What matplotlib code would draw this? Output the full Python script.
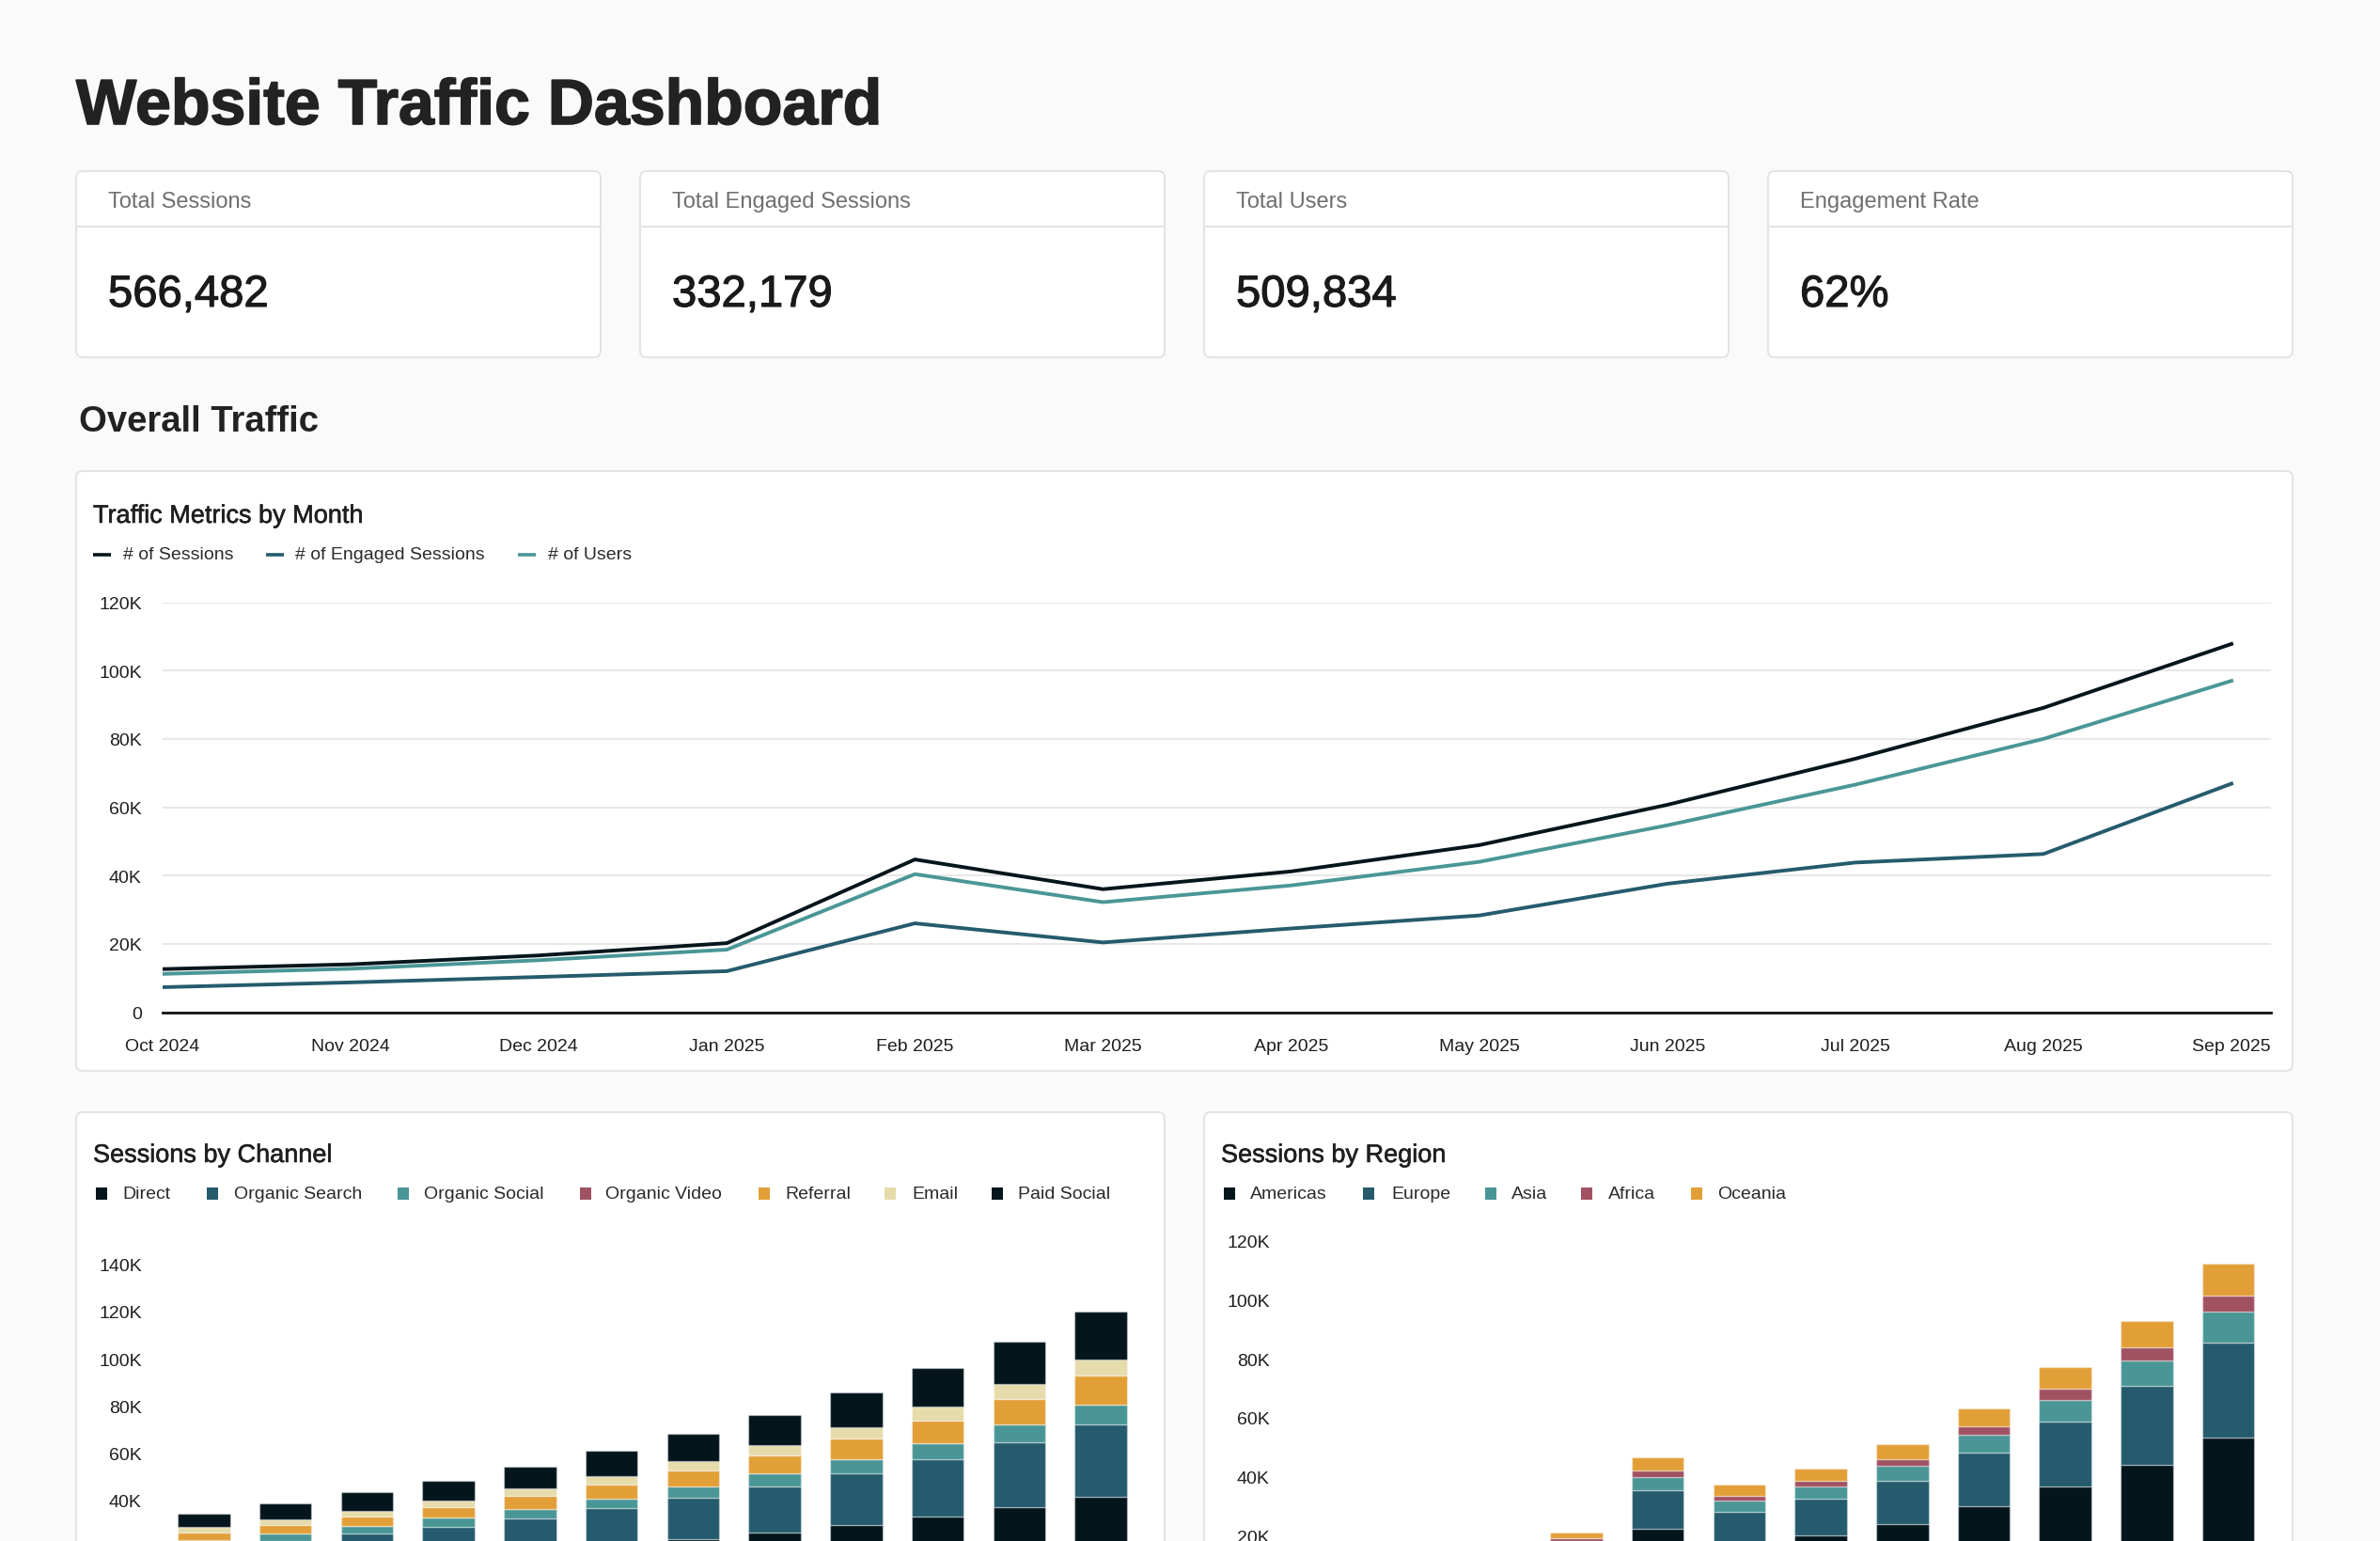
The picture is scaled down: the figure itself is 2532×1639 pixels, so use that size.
import matplotlib.pyplot as plt
import matplotlib.patheffects as pe
from matplotlib.patches import FancyBboxPatch, Rectangle
from matplotlib.ticker import FuncFormatter

# Monthly traffic (thousands)
months = ["Oct 2024", "Nov 2024", "Dec 2024", "Jan 2025", "Feb 2025", "Mar 2025",
          "Apr 2025", "May 2025", "Jun 2025", "Jul 2025", "Aug 2025", "Sep 2025"]
sessions = [12.6, 14.0, 16.6, 20.2, 44.7, 36.0, 41.2, 48.9, 60.7, 74.2, 89.1, 107.8]
engaged = [7.3, 8.7, 10.3, 12.0, 26.0, 20.4, 24.5, 28.3, 37.6, 43.8, 46.3, 66.9]
users = [11.2, 12.7, 15.2, 18.3, 40.4, 32.2, 37.1, 44.0, 54.7, 66.6, 80.0, 97.0]

# Sessions by channel (thousands)
channel_names = ["Direct", "Organic Search", "Organic Social", "Organic Video",
                 "Referral", "Email", "Paid Social"]
direct = [11.6, 13.0, 14.8, 16.5, 18.5, 20.9, 23.4, 26.2, 29.3, 32.9, 36.9, 41.3]
organic_search = [8.6, 9.7, 11.0, 12.3, 13.8, 15.6, 17.5, 19.8, 22.2, 24.6, 27.8, 30.9]
organic_social = [2.8, 3.1, 3.1, 3.7, 4.0, 4.2, 4.8, 5.3, 6.0, 6.8, 7.4, 8.5]
organic_video = [0, 0, 0, 0, 0, 0, 0, 0, 0, 0, 0, 0]
referral = [3.5, 3.7, 4.2, 4.6, 5.4, 6.1, 6.9, 7.7, 8.5, 9.6, 10.9, 12.1]
email = [2.1, 2.4, 2.5, 2.8, 3.2, 3.6, 3.9, 4.2, 4.8, 5.7, 6.1, 6.9]
paid_social = [5.7, 6.6, 7.7, 8.4, 9.3, 10.4, 11.6, 13.1, 14.7, 16.3, 18.2, 20.3]

# Sessions by region (thousands)
region_names = ["Americas", "Europe", "Asia", "Africa", "Oceania"]
americas = [6.5, 7.2, 8.5, 10.2, 22.1, 17.2, 20.1, 23.9, 29.9, 36.7, 43.9, 53.2]
europe = [3.6, 4.0, 4.8, 5.9, 13.3, 10.8, 12.4, 14.7, 18.1, 22.0, 26.7, 32.3]
asia = [1.2, 1.4, 1.6, 1.9, 4.4, 3.7, 4.1, 5.1, 6.1, 7.4, 8.9, 10.6]
africa = [0.6, 0.6, 0.7, 0.9, 2.2, 1.6, 1.9, 2.3, 3.0, 3.7, 4.3, 5.3]
oceania = [1.2, 1.4, 1.7, 2.1, 4.6, 3.8, 4.2, 5.0, 6.0, 7.3, 8.9, 10.9]

kpi_labels = ["Total Sessions", "Total Engaged Sessions", "Total Users", "Engagement Rate"]
kpi_values = ["566,482", "332,179", "509,834", "62%"]

DARK = "#04151c"
PETROL = "#255b6d"
TEAL = "#4a9696"
WINE = "#a05263"
ORANGE = "#e29f38"
SAND = "#e6dbab"

W, H = 2532, 1640
DPI = 100

plt.rcParams['font.family'] = ['Liberation Sans', 'DejaVu Sans']

fig = plt.figure(figsize=(W / DPI, H / DPI), dpi=DPI, facecolor="#fafafa")
bg = fig.add_axes([0, 0, 1, 1])
bg.set_xlim(0, W)
bg.set_ylim(H, 0)
bg.axis("off")


def medium(color, w=0.9):
    # thicken regular glyphs a little, the reference uses a medium weight
    return [pe.withStroke(linewidth=w, foreground=color)]


def card(x0, y0, x1, y1):
    bg.add_patch(FancyBboxPatch((x0, y0), x1 - x0, y1 - y0,
                                boxstyle="round,pad=0,rounding_size=7",
                                fc="white", ec="#e4e4e4", lw=1.5))


def axes_px(x0, y0, x1, y1):
    a = fig.add_axes([x0 / W, 1 - y1 / H, (x1 - x0) / W, (y1 - y0) / H])
    a.patch.set_alpha(0)
    return a


def kfmt(v, pos):
    return "0" if v == 0 else f"{int(v)}K"


def square_legend(names, colors, mx, tx, y):
    for name, c, m, t in zip(names, colors, mx, tx):
        bg.add_patch(Rectangle((m - 6, y - 7), 12, 13, fc=c, ec="none"))
        bg.text(t, y, name, fontsize=14, color="#2a2a2a", va="center")


# Header
bg.text(81, 133, "Website Traffic Dashboard", fontsize=49, fontweight="bold",
        color="#222222", va="baseline", path_effects=medium("#222222", 1.2))

# KPI cards
kpi_x = [(81, 639), (681, 1239), (1281, 1839), (1881, 2439)]
for (x0, x1), lab, val in zip(kpi_x, kpi_labels, kpi_values):
    card(x0, 183, x1, 381)
    bg.plot([x0 + 1, x1 - 1], [242, 242], color="#e4e4e4", lw=1.5)
    bg.text(x0 + 34, 215, lab, fontsize=17, color="#6f6f6f", va="center")
    bg.text(x0 + 34, 315, val, fontsize=34, color="#1a1a1a", va="center",
            path_effects=medium("#1a1a1a", 0.8))

bg.text(84, 449, "Overall Traffic", fontsize=27.5, fontweight="bold",
        color="#222222", va="center")

# Line chart card
card(81, 502, 2439, 1140)
bg.text(99, 550, "Traffic Metrics by Month", fontsize=19.5, color="#1f1f1f",
        va="center", path_effects=medium("#1f1f1f", 0.4))
line_series = [("# of Sessions", DARK), ("# of Engaged Sessions", PETROL), ("# of Users", TEAL)]
for (name, c), m0, t in zip(line_series, [99, 283, 551], [131, 314, 583]):
    bg.plot([m0, m0 + 19], [591, 591], color=c, lw=2.6, solid_capstyle="butt")
    bg.text(t, 591, name, fontsize=14, color="#2a2a2a", va="center")

ax = axes_px(173, 641.6, 2416, 1077.5)
x = list(range(len(months)))
ax.plot(x, engaged, color=PETROL, lw=2.8, zorder=3)
ax.plot(x, users, color=TEAL, lw=2.8, zorder=3)
ax.plot(x, sessions, color=DARK, lw=2.8, zorder=4)
ax.set_xlim(0, 11.21)
ax.set_ylim(0, 120)
ax.set_yticks(range(0, 121, 20))
ax.yaxis.set_major_formatter(FuncFormatter(kfmt))
ax.set_xticks(x)
ax.set_xticklabels(months)
ax.grid(axis="y", color="#e8e8e8", lw=1.5)
ax.set_axisbelow(True)
for s in ["top", "right", "left"]:
    ax.spines[s].set_visible(False)
ax.spines["bottom"].set_color("#111111")
ax.spines["bottom"].set_linewidth(2)
ax.spines["bottom"].set_zorder(5)
ax.tick_params(axis="y", length=0, labelsize=14, pad=16, labelcolor="#1f1f1f")
ax.tick_params(axis="x", length=0, labelsize=14, pad=20, labelcolor="#1f1f1f")


def stacked(a, series, colors):
    bottom = [0] * len(months)
    for vals, c in zip(series, colors):
        a.bar(x, vals, width=0.64, bottom=bottom, color=c,
              edgecolor=(1, 1, 1, 0.35), linewidth=1)
        bottom = [b + v for b, v in zip(bottom, vals)]
    for s in a.spines.values():
        s.set_visible(False)
    a.tick_params(length=0, labelsize=14, pad=16, labelcolor="#1f1f1f")
    a.yaxis.set_major_formatter(FuncFormatter(kfmt))
    # month labels sit below the visible canvas, as in the reference
    a.set_xticks(x)
    a.set_xticklabels([])


# Sessions by channel
card(81, 1184, 1239, 1720)
bg.text(99, 1230, "Sessions by Channel", fontsize=19.5, color="#1f1f1f",
        va="center", path_effects=medium("#1f1f1f", 0.4))
channel_colors = [DARK, PETROL, TEAL, WINE, ORANGE, SAND, DARK]
square_legend(channel_names, channel_colors,
              [108, 226, 429, 623, 813, 947, 1061],
              [130, 249, 451, 644, 835, 970, 1083], 1271)
ax_c = axes_px(173, 1345.7, 1215, 1697)
stacked(ax_c, [direct, organic_search, organic_social, organic_video,
               referral, email, paid_social], channel_colors)
ax_c.set_xlim(-0.507, 11.507)
ax_c.set_ylim(0, 140)
ax_c.set_yticks(range(20, 141, 20))

# Sessions by region
card(1281, 1184, 2439, 1720)
bg.text(1299, 1230, "Sessions by Region", fontsize=19.5, color="#1f1f1f",
        va="center", path_effects=medium("#1f1f1f", 0.4))
region_colors = [DARK, PETROL, TEAL, WINE, ORANGE]
square_legend(region_names, region_colors,
              [1308, 1456, 1586, 1688, 1805],
              [1330, 1480, 1608, 1711, 1827], 1271)
ax_r = axes_px(1373, 1320.7, 2414, 1696.7)
stacked(ax_r, [americas, europe, asia, africa, oceania], region_colors)
ax_r.set_xlim(-0.504, 11.5)
ax_r.set_ylim(0, 120)
ax_r.set_yticks(range(20, 121, 20))

fig.savefig("out.png", dpi=DPI, facecolor=fig.get_facecolor())
